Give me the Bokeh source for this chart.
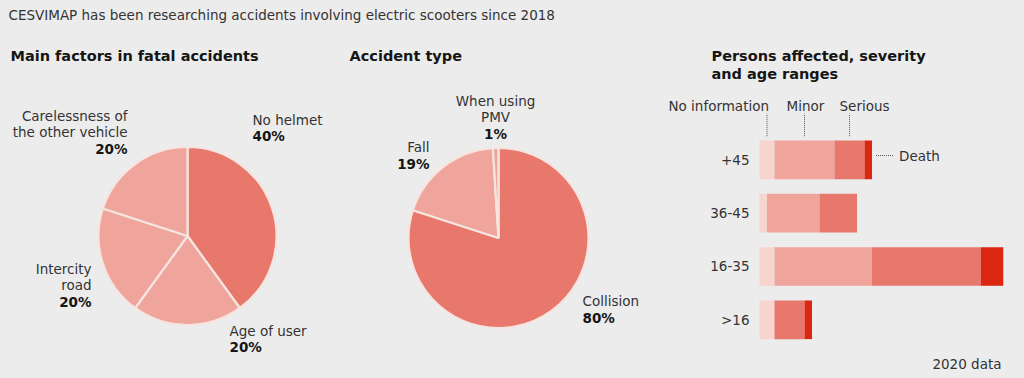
import numpy as np
from bokeh.plotting import figure
from bokeh.layouts import column, row
from bokeh.models import Label, ColumnDataSource, Range1d
from bokeh.core.properties import value
from bokeh.embed import file_html
from bokeh.resources import INLINE

# ---------------- data ----------------
headline = "CESVIMAP has been researching accidents involving electric scooters since 2018"

factor_title = "Main factors in fatal accidents"
factor_labels = ["No helmet", "Age of user", "Intercity road", "Carelessness of the other vehicle"]
factor_values = [40, 20, 20, 20]

type_title = "Accident type"
type_labels = ["Collision", "Fall", "When using PMV"]
type_values = [80, 19, 1]

age_title = ["Persons affected, severity", "and age ranges"]
age_groups = ["+45", "36-45", "16-35", ">16"]
no_info = [4, 2, 4, 4]
minor = [16, 14, 26, 0]
serious = [8, 10, 29, 8]
death = [2, 0, 6, 2]
severity = ["No information", "Minor", "Serious", "Death"]
note = "2020 data"

# ---------------- style ----------------
BG = "#ECECEC"
FONT = "DejaVu Sans"
TXT = "#333333"
DARK = "#151515"
PALE = "#F8D4CE"
MID = "#EFA59B"
STRONG = "#E8786B"
DEATH = "#DB2612"
SEP = "#F6E4E0"
BODY = "13.5px"
HEAD = "14.5px"
PAGE_H = 378
TOP_H = 36
PANEL_H = PAGE_H - TOP_H


def blank(w, h, xr, yr):
    p = figure(width=w, height=h, x_range=xr, y_range=yr, output_backend="svg",
               toolbar_location=None, min_border=0, background_fill_color=BG,
               border_fill_color=BG, outline_line_color=None)
    p.xaxis.visible = False
    p.yaxis.visible = False
    p.grid.visible = False
    return p


def lab(p, x, y, text, align="left", bold=False, size=BODY, color=None):
    p.add_layout(Label(x=x, y=y, x_units="screen", y_units="screen", text=text,
                       text_font=FONT, text_font_size=size,
                       text_font_style="bold" if bold else "normal",
                       text_color=color or (DARK if bold else TXT),
                       text_align=align, text_baseline="middle"))


def block(p, x, y_top, lines, pct, align):
    # lines given in page y (top-down); convert to figure screen (bottom-up)
    step = 16.6
    for i, t in enumerate(lines):
        lab(p, x, PAGE_H - (y_top + i * step), t, align)
    lab(p, x, PAGE_H - (y_top + len(lines) * step), pct, align, bold=True)


# ---------------- header ----------------
top = blank(1024, TOP_H, Range1d(0, 1024), Range1d(0, TOP_H))
lab(top, 8, TOP_H - 14, headline)


def pie(p, cx, cy, r, values, colors):
    vals = np.array(values, dtype=float)
    frac = vals / vals.sum()
    after = np.cumsum(frac)
    before = after - frac
    src = ColumnDataSource(dict(start=np.pi / 2 - 2 * np.pi * before,
                                end=np.pi / 2 - 2 * np.pi * after,
                                color=colors))
    p.wedge(x=cx, y=cy, radius=r, start_angle="start", end_angle="end",
            direction="clock", fill_color="color", line_color=SEP, line_width=2.2,
            source=src)


# ---------------- panel 1 ----------------
p1 = blank(330, PANEL_H, Range1d(0, 330), Range1d(0, PANEL_H))
pie(p1, 187, PAGE_H - 235.5, 89, factor_values, [STRONG, MID, MID, MID])
lab(p1, 10, PAGE_H - 55, factor_title, bold=True, size=HEAD)
block(p1, 252, 119, [factor_labels[0]], f"{factor_values[0]}%", "left")
block(p1, 229, 330, [factor_labels[1]], f"{factor_values[1]}%", "left")
block(p1, 91, 268, factor_labels[2].split(" "), f"{factor_values[2]}%", "right")
block(p1, 127, 115, ["Carelessness of", "the other vehicle"], f"{factor_values[3]}%", "right")

# ---------------- panel 2 ----------------
p2 = blank(330, PANEL_H, Range1d(0, 330), Range1d(0, PANEL_H))
pie(p2, 168, PAGE_H - 237.5, 90, type_values, [STRONG, MID, MID])
lab(p2, 19, PAGE_H - 55, type_title, bold=True, size=HEAD)
block(p2, 582 - 330, 300.7, [type_labels[0]], f"{type_values[0]}%", "left")
block(p2, 429 - 330, 146.7, [type_labels[1]], f"{type_values[1]}%", "right")
block(p2, 495 - 330, 100, ["When using", "PMV"], f"{type_values[2]}%", "center")

# ---------------- panel 3 ----------------
W3 = 364
PX_X = 3.75      # px per person
PX_Y = 53.33     # px per row
x0 = (759 - 660) / PX_X
y0 = (PAGE_H - 319.3) / PX_Y
p3 = blank(W3, PANEL_H, Range1d(-x0, (W3 / PX_X) - x0), Range1d(-y0, PANEL_H / PX_Y - y0))

n = len(age_groups)
ypos = [n - 1 - i for i in range(n)]
src = ColumnDataSource(dict(y=ypos, group=age_groups, a=no_info, b=minor, c=serious, d=death))
p3.hbar_stack(["a", "b", "c", "d"], y="y", height=0.725, color=[PALE, MID, STRONG, DEATH],
              line_color=None, source=src)
p3.text(x=0, y="y", text="group", source=src, x_offset=-10, text_align="right",
        text_baseline="middle", text_font=value(FONT), text_font_size=BODY, text_color=TXT)

# legend markers on the top (+45) bar
h = 0.725
y_top = ypos[0] + h / 2
edges = np.cumsum([0, no_info[0], minor[0], serious[0], death[0]])
mids = (edges[:-1] + edges[1:]) / 2
p3.segment(x0=mids[:3], y0=[y_top + 0.08] * 3, x1=mids[:3], y1=[y_top + 0.5] * 3,
           line_color="#555555", line_width=1, line_dash="1 1")
ly = y_top + 0.655
for xm, t, off, al in zip(mids[:3], severity[:3], [2, 1, -10], ["right", "center", "left"]):
    p3.text(x=[xm], y=[ly], text=[t], x_offset=off, text_align=al, text_baseline="middle",
            text_font=value(FONT), text_font_size=BODY, text_color=TXT)
bar_end = edges[-1]
dy = ypos[0] + 0.08
p3.segment(x0=[bar_end + 4 / PX_X], y0=[dy], x1=[bar_end + 22 / PX_X], y1=[dy],
           line_color="#555555", line_width=1, line_dash="1 1")
p3.text(x=[bar_end], y=[dy], text=[severity[3]], x_offset=27, text_align="left",
        text_baseline="middle", text_font=value(FONT), text_font_size=BODY, text_color=TXT)

lab(p3, 711 - 660, PAGE_H - 55, age_title[0], bold=True, size=HEAD)
lab(p3, 711 - 660, PAGE_H - 73, age_title[1], bold=True, size=HEAD)
lab(p3, 1001 - 660, PAGE_H - 363.3, note, align="right")

layout = column(top, row(p1, p2, p3, spacing=0), spacing=0, background=BG)
open("out.html", "w").write(file_html(layout, INLINE))
